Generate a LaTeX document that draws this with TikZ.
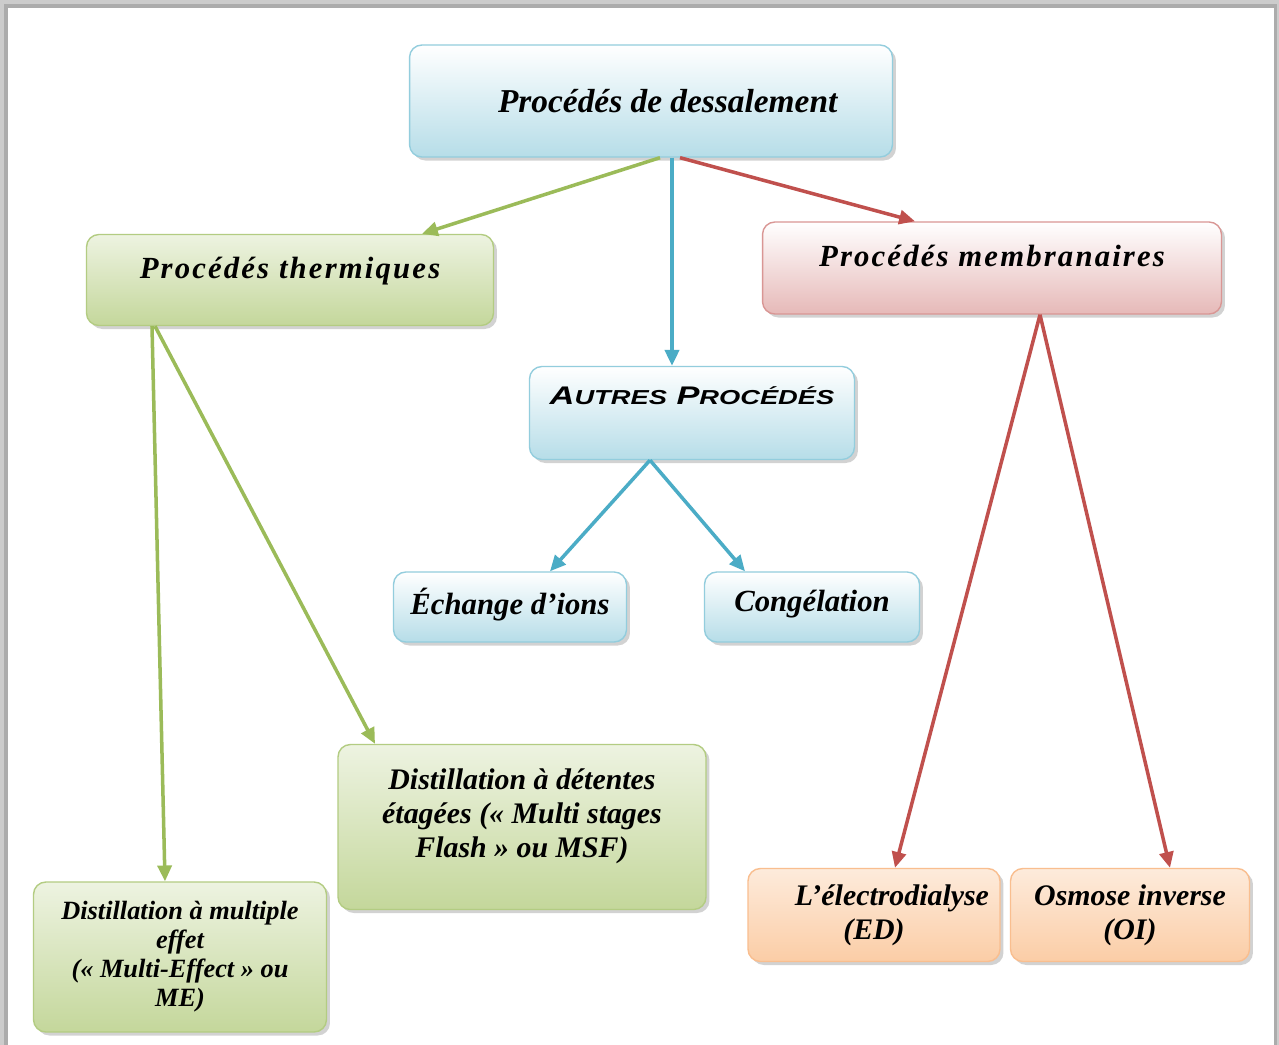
\documentclass[tikz,border=0pt]{standalone}
\usepackage{fontspec}
\setmainfont{Liberation Serif}
\newfontfamily\spacedfont[LetterSpace=7]{Liberation Serif}
\newfontfamily\widefont[FakeStretch=1.35]{Liberation Sans}
\usepackage{tikz}
\usetikzlibrary{arrows.meta,shadows,calc}
\definecolor{BlueLine}{HTML}{93CDDD}
\definecolor{BlueFill}{HTML}{B6DDE8}
\definecolor{GreenLine}{HTML}{B3CC82}
\definecolor{GreenFill}{HTML}{C4D79B}
\definecolor{RedLine}{HTML}{D99694}
\definecolor{RedFill}{HTML}{E6B9B8}
\definecolor{OrangeLine}{HTML}{F9BE8F}
\definecolor{OrangeFill}{HTML}{FBCDA6}
\definecolor{GreenArrow}{HTML}{9BBB59}
\definecolor{BlueArrow}{HTML}{4BACC6}
\definecolor{RedArrow}{HTML}{C0504D}
\tikzset{
box/.style = {rectangle, rounded corners=7pt, line width=0.8pt, align=center,
              drop shadow={opacity=0.35, shadow xshift=2pt, shadow yshift=-2pt},
              font=\bfseries\itshape},
bluebox/.style = {box, draw=BlueLine, top color=white, bottom color=BlueFill},
greenbox/.style = {box, draw=GreenLine, top color=GreenFill!30!white, bottom color=GreenFill},
redbox/.style = {box, draw=RedLine, top color=white, bottom color=RedFill},
orangebox/.style = {box, draw=OrangeLine, top color=OrangeFill!40!white, bottom color=OrangeFill},
link/.style = {-{Triangle[length=9pt,width=8pt]}, line width=2pt}
}

\begin{document}
\begin{tikzpicture}[x=0.02cm, y=-0.02cm]
\useasboundingbox (0,0) rectangle (1279,1045);

% frame
\fill[gray!40] (0,0) rectangle (1279,1045);
\fill[gray!65] (4,4) rectangle (1277,1045);
\fill[white] (8,8) rectangle (1274,1045);

\node[bluebox, minimum width=9.66cm, minimum height=2.24cm,
      font=\bfseries\itshape\fontsize{19}{22}\selectfont] (root) at (651,101) {\hspace*{1em}Procédés de dessalement};
\node[greenbox, minimum width=8.14cm, minimum height=1.82cm, text depth=14pt,
      font=\spacedfont\bfseries\itshape\fontsize{17.5}{20}\selectfont] (therm) at (290,280) {Procédés thermiques};
\node[redbox, minimum width=9.18cm, minimum height=1.84cm, text depth=14pt,
      font=\spacedfont\bfseries\itshape\fontsize{17.5}{20}\selectfont] (membr) at (992,268) {Procédés membranaires};
\node[bluebox, minimum width=6.5cm, minimum height=1.86cm, text depth=20pt,
      font=\widefont\bfseries\itshape\fontsize{14.5}{18}\selectfont] (autres) at (692,413)
      {A{\fontsize{11.5}{14}\selectfont UTRES} P{\fontsize{11.5}{14}\selectfont ROCÉDÉS}};
\node[bluebox, minimum width=4.66cm, minimum height=1.4cm, text depth=7pt,
      font=\bfseries\itshape\fontsize{17.5}{20}\selectfont] (echange) at (510,607) {Échange d’ions};
\node[bluebox, minimum width=4.3cm, minimum height=1.4cm, text depth=7pt,
      font=\bfseries\itshape\fontsize{17.5}{20}\selectfont] (congel) at (812,607) {Congélation};
\node[greenbox, minimum width=7.36cm, minimum height=3.3cm, text depth=16pt,
      font=\bfseries\itshape\fontsize{17}{19.5}\selectfont] (msf) at (522,827)
      {Distillation à détentes\\ étagées (« Multi stages\\ Flash » ou MSF)};
\node[greenbox, minimum width=5.86cm, minimum height=3.0cm,
      font=\bfseries\itshape\fontsize{15}{16.5}\selectfont] (me) at (180,957)
      {Distillation à multiple\\ effet\\ (« Multi-Effect » ou\\ ME)};
\node[orangebox, minimum width=5.04cm, minimum height=1.86cm,
      font=\bfseries\itshape\fontsize{17}{19.5}\selectfont] (ed) at (874,915) {\hspace*{1.2em}L’électrodialyse\\ (ED)};
\node[orangebox, minimum width=4.78cm, minimum height=1.86cm,
      font=\bfseries\itshape\fontsize{17}{19.5}\selectfont] (oi) at (1130,915) {Osmose inverse\\ (OI)};

\draw[link, GreenArrow] ($(root.south)+(9,0)$) -- ($(therm.north)+(132,0)$);
\draw[link, BlueArrow] ($(root.south)+(21,0)$) -- ($(autres.north)+(-20,0)$);
\draw[link, RedArrow] ($(root.south)+(29,0)$) -- ($(membr.north)+(-77,0)$);
\draw[link, GreenArrow] ($(therm.south)+(-138,0)$) -- ($(me.north)+(-15,0)$);
\draw[link, GreenArrow] ($(therm.south)+(-135,0)$) -- ($(msf.north)+(-147,0)$);
\draw[link, BlueArrow] ($(autres.south)+(-42,0)$) -- ($(echange.north)+(40,0)$);
\draw[link, BlueArrow] ($(autres.south)+(-42,0)$) -- ($(congel.north)+(-67,0)$);
\draw[link, RedArrow] ($(membr.south)+(48,0)$) -- ($(ed.north)+(21,0)$);
\draw[link, RedArrow] ($(membr.south)+(48,0)$) -- ($(oi.north)+(40,0)$);
\end{tikzpicture}
\end{document}
